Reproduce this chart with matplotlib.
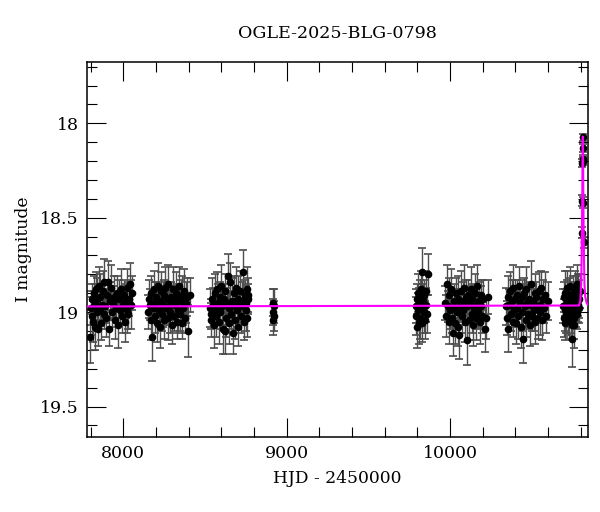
import matplotlib
matplotlib.use("Agg")
import matplotlib.pyplot as plt
from matplotlib.ticker import MultipleLocator

plt.rcParams['font.family'] = ['DejaVu Serif']

# OGLE photometry, HJD - 2450000, I mag, error
s1_t = [7797, 7802, 7806, 7810, 7814, 7818, 7822, 7826, 7830, 7834,
        7838, 7842, 7846, 7850, 7855, 7860, 7865, 7870, 7875, 7880,
        7885, 7890, 7895, 7900, 7906, 7912, 7918, 7924, 7930, 7936,
        7942, 7948, 7954, 7960, 7966, 7972, 7978, 7984, 7990, 7996,
        8002, 8008, 8014, 8020, 8026, 8032, 8038, 8044, 8050, 8056]
s1_mag = [19.13, 18.98, 19.02, 18.93, 19.05, 18.90, 18.97, 19.08, 18.95, 18.88,
          19.00, 18.93, 19.09, 18.86, 18.99, 18.92, 19.06, 18.96, 18.89, 19.01,
          18.84, 18.97, 19.03, 18.91, 18.84, 19.09, 18.94, 18.87, 19.00, 18.95,
          18.92, 19.04, 18.98, 18.90, 19.07, 18.93, 18.99, 18.88, 19.02, 18.96,
          18.91, 19.05, 18.94, 18.99, 18.87, 19.01, 18.93, 18.85, 18.96, 18.90]
s1_err = [0.14, 0.09, 0.10, 0.08, 0.11, 0.09, 0.08, 0.12, 0.10, 0.09,
          0.08, 0.11, 0.09, 0.10, 0.08, 0.12, 0.09, 0.10, 0.11, 0.08,
          0.12, 0.09, 0.10, 0.08, 0.11, 0.09, 0.10, 0.12, 0.08, 0.09,
          0.11, 0.10, 0.08, 0.09, 0.12, 0.10, 0.08, 0.11, 0.09, 0.10,
          0.08, 0.11, 0.09, 0.12, 0.10, 0.08, 0.09, 0.11, 0.13, 0.09]

s2_t = [8152, 8157, 8162, 8167, 8172, 8177, 8182, 8187, 8192, 8197,
        8202, 8207, 8212, 8217, 8222, 8227, 8232, 8237, 8242, 8247,
        8252, 8257, 8262, 8267, 8272, 8277, 8282, 8287, 8292, 8297,
        8302, 8307, 8312, 8317, 8322, 8327, 8332, 8337, 8342, 8347,
        8352, 8357, 8362, 8367, 8372, 8378, 8384, 8390, 8398, 8406]
s2_mag = [19.00, 18.93, 18.96, 19.04, 18.90, 19.13, 18.98, 18.88, 19.02, 18.95,
          18.92, 19.06, 18.86, 18.99, 19.08, 18.94, 18.89, 19.01, 18.96, 18.91,
          19.04, 18.87, 18.98, 18.93, 19.03, 18.85, 18.97, 19.00, 18.92, 19.07,
          18.95, 18.88, 19.02, 18.96, 18.90, 19.05, 18.93, 18.99, 18.86, 19.01,
          18.94, 19.06, 18.91, 18.98, 18.89, 19.03, 18.95, 18.92, 19.10, 18.91]
s2_err = [0.09, 0.10, 0.08, 0.11, 0.09, 0.13, 0.08, 0.10, 0.09, 0.11,
          0.08, 0.10, 0.12, 0.09, 0.11, 0.08, 0.10, 0.09, 0.12, 0.08,
          0.10, 0.11, 0.09, 0.08, 0.12, 0.10, 0.09, 0.11, 0.08, 0.10,
          0.09, 0.12, 0.08, 0.10, 0.11, 0.09, 0.08, 0.12, 0.10, 0.09,
          0.11, 0.08, 0.10, 0.09, 0.12, 0.08, 0.11, 0.10, 0.14, 0.09]

s3_t = [8531, 8535, 8540, 8545, 8550, 8555, 8560, 8565, 8570, 8575,
        8580, 8585, 8590, 8595, 8600, 8605, 8610, 8615, 8620, 8625,
        8630, 8635, 8640, 8645, 8650, 8655, 8660, 8665, 8670, 8675,
        8680, 8685, 8690, 8695, 8700, 8705, 8710, 8715, 8720, 8725,
        8730, 8735, 8740, 8745, 8749, 8752, 8755, 8758, 8761, 8764]
s3_mag = [18.98, 19.04, 19.01, 18.93, 18.96, 19.07, 18.90, 18.99, 19.02, 18.88,
          18.95, 19.05, 18.92, 19.00, 18.86, 18.97, 19.09, 18.93, 19.10, 18.89,
          19.03, 18.95, 18.81, 19.06, 18.98, 18.84, 19.01, 18.94, 19.11, 18.90,
          18.97, 19.04, 18.87, 18.99, 18.93, 19.08, 18.96, 18.89, 19.02, 18.94,
          18.79, 18.97, 19.05, 18.91, 18.99, 18.95, 18.88, 19.03, 18.93, 18.91]
s3_err = [0.10, 0.09, 0.08, 0.11, 0.09, 0.12, 0.10, 0.08, 0.11, 0.09,
          0.10, 0.12, 0.08, 0.09, 0.11, 0.10, 0.13, 0.08, 0.12, 0.09,
          0.10, 0.08, 0.12, 0.11, 0.09, 0.10, 0.08, 0.12, 0.11, 0.09,
          0.08, 0.10, 0.11, 0.09, 0.12, 0.10, 0.08, 0.11, 0.09, 0.10,
          0.12, 0.09, 0.10, 0.08, 0.11, 0.09, 0.12, 0.10, 0.08, 0.09]

s3b_t = [8915, 8917, 8919, 8921, 8923]
s3b_mag = [18.95, 19.04, 19.00, 18.97, 19.02]
s3b_err = [0.07, 0.08, 0.07, 0.09, 0.08]

s4_t = [9792, 9795, 9798, 9801, 9804, 9807, 9810, 9813, 9816, 9819,
        9822, 9825, 9828, 9831, 9834, 9838, 9842, 9846, 9851, 9856,
        9860, 9864]
s4_mag = [18.97, 19.02, 18.93, 19.08, 18.99, 18.90, 19.05, 18.95, 18.92, 19.03,
          18.88, 18.98, 18.79, 19.06, 18.94, 19.00, 18.91, 19.04, 18.96, 18.89,
          19.01, 18.80]
s4_err = [0.09, 0.10, 0.08, 0.11, 0.09, 0.10, 0.12, 0.08, 0.09, 0.11,
          0.10, 0.08, 0.13, 0.10, 0.09, 0.11, 0.08, 0.10, 0.09, 0.11,
          0.10, 0.11]

s5_t = [9972, 9977, 9982, 9987, 9992, 9997, 10002, 10007, 10012, 10017,
        10022, 10027, 10032, 10037, 10042, 10047, 10052, 10057, 10062, 10067,
        10072, 10077, 10082, 10087, 10092, 10097, 10102, 10107, 10112, 10117,
        10122, 10127, 10132, 10137, 10142, 10147, 10152, 10157, 10162, 10167,
        10172, 10177, 10182, 10187, 10192, 10198, 10204, 10212, 10220, 10230]
s5_mag = [18.95, 19.02, 18.85, 18.97, 19.05, 18.91, 18.99, 18.88, 19.03, 19.11,
          18.94, 18.98, 19.06, 18.90, 19.00, 18.93, 19.08, 19.12, 18.96, 18.89,
          19.02, 18.94, 18.99, 18.87, 19.05, 18.92, 19.15, 18.97, 18.91, 19.04,
          18.95, 18.88, 19.01, 18.93, 19.07, 18.98, 18.90, 19.03, 18.96, 18.86,
          19.00, 18.94, 19.05, 18.91, 18.97, 19.02, 18.93, 19.09, 19.03, 18.92]
s5_err = [0.09, 0.11, 0.10, 0.08, 0.12, 0.09, 0.10, 0.11, 0.08, 0.12,
          0.09, 0.10, 0.11, 0.08, 0.09, 0.12, 0.10, 0.13, 0.08, 0.11,
          0.09, 0.10, 0.08, 0.12, 0.11, 0.09, 0.13, 0.10, 0.08, 0.11,
          0.09, 0.12, 0.10, 0.08, 0.11, 0.09, 0.10, 0.12, 0.08, 0.11,
          0.09, 0.10, 0.12, 0.08, 0.11, 0.09, 0.10, 0.12, 0.11, 0.09]

s6_t = [10343, 10348, 10353, 10358, 10363, 10368, 10373, 10378, 10383, 10388,
        10393, 10398, 10403, 10408, 10413, 10418, 10423, 10428, 10433, 10438,
        10443, 10448, 10453, 10458, 10463, 10468, 10473, 10478, 10483, 10488,
        10493, 10498, 10503, 10508, 10513, 10518, 10523, 10528, 10533, 10538,
        10543, 10548, 10553, 10558, 10563, 10569, 10575, 10582, 10590, 10598]
s6_mag = [18.97, 19.03, 18.92, 19.09, 18.96, 18.89, 19.01, 18.94, 19.05, 18.87,
          18.99, 18.93, 19.06, 18.91, 18.98, 19.02, 18.86, 18.95, 19.08, 18.92,
          19.00, 19.14, 18.90, 18.97, 19.04, 18.88, 18.95, 19.01, 18.93, 19.07,
          18.96, 18.85, 19.02, 18.94, 18.99, 18.90, 19.05, 18.92, 18.97, 19.03,
          18.89, 18.96, 19.00, 18.87, 19.04, 18.93, 18.98, 18.91, 19.02, 18.94]
s6_err = [0.10, 0.09, 0.11, 0.12, 0.08, 0.10, 0.09, 0.11, 0.08, 0.12,
          0.09, 0.10, 0.11, 0.08, 0.09, 0.12, 0.10, 0.08, 0.11, 0.09,
          0.10, 0.13, 0.08, 0.11, 0.09, 0.12, 0.10, 0.08, 0.09, 0.11,
          0.10, 0.12, 0.08, 0.09, 0.11, 0.10, 0.12, 0.08, 0.09, 0.11,
          0.10, 0.08, 0.12, 0.09, 0.11, 0.10, 0.08, 0.12, 0.09, 0.10]

s7_t = [10692, 10695, 10698, 10701, 10704, 10707, 10710, 10713, 10716, 10719,
        10722, 10725, 10728, 10731, 10734, 10737, 10740, 10743, 10746, 10749,
        10752, 10755, 10758, 10761, 10764, 10767, 10770, 10773, 10776, 10779,
        10782, 10785, 10788, 10791, 10794]
s7_mag = [18.97, 19.03, 18.92, 18.99, 19.06, 18.90, 18.96, 19.01, 18.87, 18.94,
          19.04, 18.98, 18.91, 19.02, 18.95, 18.86, 19.00, 18.93, 19.07, 19.14,
          18.97, 18.90, 19.03, 19.07, 18.95, 18.88, 18.99, 18.92, 19.01, 18.85,
          18.96, 18.91, 18.98, 18.93, 18.89]
s7_err = [0.09, 0.10, 0.08, 0.11, 0.09, 0.12, 0.08, 0.10, 0.09, 0.11,
          0.08, 0.10, 0.09, 0.12, 0.08, 0.10, 0.11, 0.09, 0.08, 0.15,
          0.10, 0.09, 0.11, 0.12, 0.08, 0.10, 0.09, 0.11, 0.08, 0.10,
          0.09, 0.11, 0.08, 0.10, 0.09]

peak_t = [10808, 10810, 10811, 10812, 10812.5, 10813, 10814, 10816, 10818]
peak_mag = [18.58, 18.41, 18.21, 18.13, 18.20, 18.075, 18.19, 18.42, 18.63]
peak_err = [0.03, 0.03, 0.02, 0.02, 0.02, 0.02, 0.02, 0.03, 0.03]

# microlensing model curve
model_t = [7780, 10790, 10798, 10803, 10806, 10808, 10810, 10811, 10812, 10813,
           10814, 10815, 10816, 10818, 10820, 10823, 10828, 10836, 10843]
model_mag = [18.97, 18.965, 18.94, 18.85, 18.70, 18.55, 18.35, 18.22, 18.12, 18.07,
             18.12, 18.22, 18.35, 18.55, 18.70, 18.85, 18.92, 18.95, 18.96]

seasons = [(s1_t, s1_mag, s1_err), (s2_t, s2_mag, s2_err), (s3_t, s3_mag, s3_err),
           (s3b_t, s3b_mag, s3b_err), (s4_t, s4_mag, s4_err), (s5_t, s5_mag, s5_err),
           (s6_t, s6_mag, s6_err), (s7_t, s7_mag, s7_err),
           (peak_t, peak_mag, peak_err)]

fig = plt.figure(figsize=(6, 5.12), dpi=100)
ax = fig.add_axes([0.1455, 0.147, 0.834, 0.732])

for t, m, e in seasons:
    ax.errorbar(t, m, yerr=e, fmt='o', color='k', ms=4.5, ecolor='0.3',
                elinewidth=1, capsize=3, capthick=1.2, zorder=2)

ax.plot(model_t, model_mag, color='#ff00ff', lw=1.5, zorder=3)

ax.set_xlim(7780, 10843)
ax.set_ylim(19.66, 17.675)
ax.xaxis.set_major_locator(MultipleLocator(1000))
ax.xaxis.set_minor_locator(MultipleLocator(200))
ax.yaxis.set_major_locator(MultipleLocator(0.5))
ax.yaxis.set_minor_locator(MultipleLocator(0.1))
ax.set_yticks([18, 18.5, 19, 19.5])
ax.set_yticklabels(['18', '18.5', '19', '19.5'])
ax.tick_params(which='both', direction='in', top=True, right=True, labelsize=12.5)
ax.tick_params(which='major', length=13.5, width=0.8, pad=6)
ax.tick_params(which='minor', length=7, width=0.8)
for s in ax.spines.values():
    s.set_linewidth(1.1)

ax.set_xlabel("HJD - 2450000", fontsize=12.3, labelpad=6)
ax.set_ylabel("I magnitude", fontsize=12.3, labelpad=6)
ax.set_title("OGLE-2025-BLG-0798", fontsize=12.6, pad=17)

fig.savefig("out.png", dpi=100)
